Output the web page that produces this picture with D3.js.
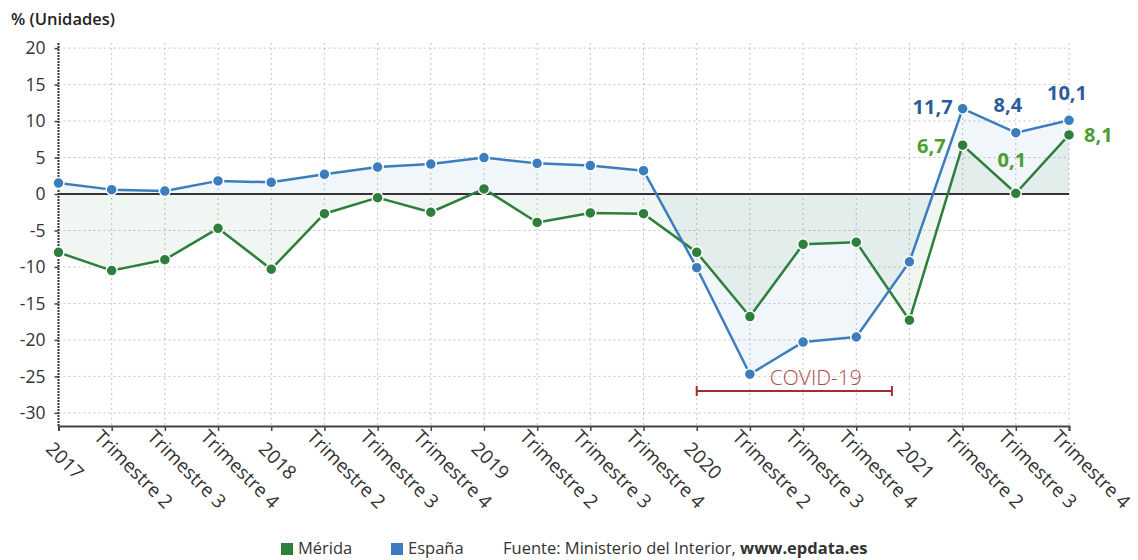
<!DOCTYPE html>
<html lang="es">
<head>
<meta charset="utf-8">
<script src="https://cdn.jsdelivr.net/npm/d3@7"></script>
<style>
  html, body { margin: 0; padding: 0; background: #fff; }
  svg { display: block; font-family: "Open Sans", sans-serif; }
</style>
</head>
<body>
<svg id="chart" width="1138" height="560"></svg>
<script>
// Periodos trimestrales
const categories = [
  "2017", "Trimestre 2", "Trimestre 3", "Trimestre 4",
  "2018", "Trimestre 2", "Trimestre 3", "Trimestre 4",
  "2019", "Trimestre 2", "Trimestre 3", "Trimestre 4",
  "2020", "Trimestre 2", "Trimestre 3", "Trimestre 4",
  "2021", "Trimestre 2", "Trimestre 3", "Trimestre 4"
];

// Variación (%) – Mérida
const merida = [
  -8.0, -10.5, -9.0, -4.7,
  -10.3, -2.7, -0.5, -2.5,
  0.7, -3.9, -2.6, -2.7,
  -8.0, -16.8, -6.9, -6.6,
  -17.3, 6.7, 0.1, 8.1
];

// Variación (%) – España
const espana = [
  1.5, 0.6, 0.4, 1.8,
  1.6, 2.7, 3.7, 4.1,
  5.0, 4.2, 3.9, 3.2,
  -10.1, -24.7, -20.3, -19.6,
  -9.3, 11.7, 8.4, 10.1
];

const yTicks = [20, 15, 10, 5, 0, -5, -10, -15, -20, -25, -30];
const yDomain = [-31.8, 20.7];

// Periodo marcado como COVID-19 (en índices de la serie)
const covidSpan = [12, 15.67];
const covidLabel = "COVID-19";

// Valores rotulados (índices de los puntos con etiqueta)
const labelledIdx = [17, 18, 19];

const svg = d3.select("#chart");
const plot = { left: 58.5, right: 1069, top: 43, bottom: 426 };

const x = d3.scalePoint()
  .domain(d3.range(categories.length))
  .range([plot.left, plot.right]);

const y = d3.scaleLinear()
  .domain(yDomain)
  .range([plot.bottom, plot.top]);

const xLin = d3.scaleLinear()
  .domain([0, categories.length - 1])
  .range([plot.left, plot.right]);

const colors = {
  merida: "#2d7f3b",
  espana: "#3b7dbd",
  meridaLabel: "#4c9d2f",
  espanaLabel: "#2c5c9c",
  covid: "#a32c2c",
  covidText: "#b0494b"
};

// Rejilla horizontal
svg.append("g")
  .selectAll("line")
  .data(yTicks)
  .join("line")
  .attr("x1", plot.left).attr("x2", plot.right)
  .attr("y1", d => y(d)).attr("y2", d => y(d))
  .attr("stroke", "#c4c4c4").attr("stroke-width", 1)
  .attr("stroke-dasharray", "2,3");

// Rejilla vertical
svg.append("g")
  .selectAll("line")
  .data(d3.range(1, categories.length))
  .join("line")
  .attr("x1", d => x(d)).attr("x2", d => x(d))
  .attr("y1", plot.top).attr("y2", plot.bottom)
  .attr("stroke", "#c4c4c4").attr("stroke-width", 1)
  .attr("stroke-dasharray", "2,3");

// Áreas hasta el cero
const area = d3.area()
  .x((d, i) => x(i))
  .y0(y(0))
  .y1(d => y(d));

svg.append("path")
  .datum(espana)
  .attr("d", area)
  .attr("fill", colors.espana)
  .attr("fill-opacity", 0.07);

svg.append("path")
  .datum(merida)
  .attr("d", area)
  .attr("fill", colors.merida)
  .attr("fill-opacity", 0.07);

// Línea del cero
svg.append("line")
  .attr("x1", plot.left).attr("x2", plot.right)
  .attr("y1", y(0)).attr("y2", y(0))
  .attr("stroke", "#333").attr("stroke-width", 2);

// Eje Y
const yAxis = svg.append("g")
  .attr("transform", `translate(${plot.left},0)`)
  .call(d3.axisLeft(y).tickValues(yTicks).tickSize(4).tickPadding(9)
    .tickFormat(d => String(d)));
yAxis.select(".domain").remove();
yAxis.selectAll(".tick line").attr("stroke", "#444").attr("stroke-width", 1.5);
yAxis.selectAll(".tick text")
  .attr("fill", "#333")
  .style("font-size", "17.5px")
  .style("font-family", "'Open Sans', sans-serif");

svg.append("line")
  .attr("x1", plot.left).attr("x2", plot.left)
  .attr("y1", plot.top).attr("y2", plot.bottom)
  .attr("stroke", "#333").attr("stroke-width", 2)
  .attr("stroke-dasharray", "2,1");

// Eje X
const isYear = i => !categories[i].startsWith("Trimestre");
const xAxis = svg.append("g")
  .attr("transform", `translate(0,${plot.bottom})`)
  .call(d3.axisBottom(x).tickSize(5).tickFormat(i => categories[i]));
xAxis.select(".domain").attr("stroke", "#444").attr("stroke-width", 2);
xAxis.selectAll(".tick line").attr("stroke", "#444").attr("stroke-width", 1.5);
xAxis.selectAll(".tick text")
  .attr("fill", "#333")
  .attr("text-anchor", "start")
  .attr("x", i => isYear(i) ? 7 : -5)
  .attr("y", i => isYear(i) ? 27 : 22)
  .attr("dy", null)
  .attr("transform", "rotate(45)")
  .style("font-size", "19px")
  .style("font-family", "'Open Sans', sans-serif");

// Título del eje
svg.append("text")
  .attr("x", 11).attr("y", 24.5)
  .attr("fill", "#222")
  .style("font-size", "16.5px")
  .style("font-weight", 600)
  .text("% (Unidades)");

// Marca COVID-19
const covid = svg.append("g");
const cy = y(-27);
covid.append("line")
  .attr("x1", xLin(covidSpan[0])).attr("x2", xLin(covidSpan[1]))
  .attr("y1", cy).attr("y2", cy)
  .attr("stroke", colors.covid).attr("stroke-width", 2);
covidSpan.forEach(v => {
  covid.append("line")
    .attr("x1", xLin(v)).attr("x2", xLin(v))
    .attr("y1", cy - 5).attr("y2", cy + 5)
    .attr("stroke", colors.covid).attr("stroke-width", 2);
});
covid.append("text")
  .attr("x", xLin(covidSpan[0]) + 73).attr("y", cy - 6)
  .attr("fill", colors.covidText)
  .style("font-size", "21px")
  .style("font-weight", 300)
  .text(covidLabel);

// Líneas y puntos
const line = d3.line().x((d, i) => x(i)).y(d => y(d));

function drawSeries(values, color) {
  svg.append("path")
    .datum(values)
    .attr("d", line)
    .attr("fill", "none")
    .attr("stroke", color)
    .attr("stroke-width", 2.5)
    .attr("stroke-linejoin", "round");
  svg.append("g")
    .selectAll("circle")
    .data(values)
    .join("circle")
    .attr("cx", (d, i) => x(i))
    .attr("cy", d => y(d))
    .attr("r", 5.5)
    .attr("fill", color)
    .attr("stroke", "#fff")
    .attr("stroke-width", 1.5);
}
drawSeries(merida, colors.merida);
drawSeries(espana, colors.espana);

// Etiquetas de valor
const fmt = v => d3.format(".1f")(v).replace(".", ",");
const espanaPlace = [
  { dx: -10, dy: 5, anchor: "end" },
  { dx: -8, dy: -21, anchor: "middle" },
  { dx: -2, dy: -20, anchor: "middle" }
];
const meridaPlace = [
  { dx: -17, dy: 8, anchor: "end" },
  { dx: -4, dy: -26, anchor: "middle" },
  { dx: 15, dy: 7, anchor: "start" }
];

function drawLabels(values, places, color) {
  svg.append("g")
    .selectAll("text")
    .data(labelledIdx)
    .join("text")
    .attr("x", (i, k) => x(i) + places[k].dx)
    .attr("y", (i, k) => y(values[i]) + places[k].dy)
    .attr("text-anchor", (i, k) => places[k].anchor)
    .attr("fill", color)
    .style("font-size", "20px")
    .style("font-weight", 700)
    .text(i => fmt(values[i]));
}
drawLabels(espana, espanaPlace, colors.espanaLabel);
drawLabels(merida, meridaPlace, colors.meridaLabel);

// Leyenda y fuente
const legend = svg.append("g").attr("transform", "translate(0,554)");
const items = [
  { name: "Mérida", color: colors.merida, x: 281 },
  { name: "España", color: colors.espana, x: 391 }
];
items.forEach(it => {
  legend.append("rect")
    .attr("x", it.x).attr("y", -11)
    .attr("width", 12).attr("height", 12)
    .attr("fill", it.color);
  legend.append("text")
    .attr("x", it.x + 17).attr("y", 0)
    .attr("fill", "#333")
    .style("font-size", "16.5px")
    .text(it.name);
});
const src = legend.append("text")
  .attr("x", 503).attr("y", 0)
  .attr("fill", "#333")
  .style("font-size", "16.5px");
src.append("tspan").text("Fuente: Ministerio del Interior, ");
src.append("tspan").style("font-weight", 700).text("www.epdata.es");
</script>
</body>
</html>
